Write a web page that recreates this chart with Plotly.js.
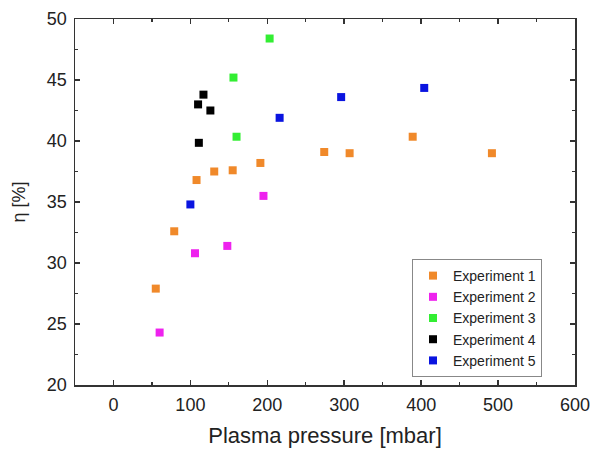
<!DOCTYPE html>
<html>
<head>
<meta charset="utf-8">
<script src="https://cdn.plot.ly/plotly-3.0.1.min.js"></script>
<style>html,body{margin:0;padding:0;background:#fff;}#chart{width:592px;height:450px;}</style>
</head>
<body>
<div id="chart"></div>
<script>
var seriesNames = ["Experiment 1", "Experiment 2", "Experiment 3", "Experiment 4", "Experiment 5"];
var seriesColors = ["#F0892A", "#EE22EE", "#33EE33", "#000000", "#0A14E0"];

var exp1X = [55, 79, 108, 131, 155, 191, 274, 307, 389, 492];
var exp1Y = [27.9, 32.6, 36.8, 37.5, 37.6, 38.2, 39.1, 39.0, 40.35, 39.0];
var exp2X = [60, 106, 148, 195];
var exp2Y = [24.3, 30.8, 31.4, 35.5];
var exp3X = [156, 160, 203];
var exp3Y = [45.2, 40.35, 48.4];
var exp4X = [110, 117, 126, 111];
var exp4Y = [43.0, 43.8, 42.5, 39.85];
var exp5X = [100, 216, 296, 404];
var exp5Y = [34.8, 41.9, 43.6, 44.35];

var xTicks = [0, 100, 200, 300, 400, 500, 600];
var yTicks = [20, 25, 30, 35, 40, 45, 50];

var xs = [exp1X, exp2X, exp3X, exp4X, exp5X];
var ys = [exp1Y, exp2Y, exp3Y, exp4Y, exp5Y];

var traces = seriesNames.map(function(n, i){
  return {
    x: xs[i], y: ys[i], name: n, type: 'scatter', mode: 'markers',
    marker: {symbol: 'square', size: 8, color: seriesColors[i]}
  };
});

var axisCommon = {
  showgrid: false, zeroline: false, showline: true, linecolor: '#333', linewidth: 1.5,
  mirror: 'allticks', ticks: 'inside', ticklen: 5, tickwidth: 1.5, tickcolor: '#333',
  tickfont: {family: 'Liberation Sans, Arial, sans-serif', size: 18, color: '#222'}
};

var layout = {
  width: 592, height: 450,
  margin: {l: 75, r: 17, t: 19, b: 65},
  paper_bgcolor: '#fff', plot_bgcolor: '#fff',
  showlegend: true,
  font: {family: 'Liberation Sans, Arial, sans-serif', color: '#222'},
  xaxis: Object.assign({}, axisCommon, {
    range: [-50, 600], tickvals: xTicks,
    ticklabelstandoff: 3,
    minor: {ticks: 'inside', ticklen: 3, tickvals: [-50, 50, 150, 250, 350, 450, 550], tickcolor: '#333', tickwidth: 1.2},
    title: {text: 'Plasma pressure [mbar]', font: {size: 22, color: '#222'}, standoff: 13}
  }),
  yaxis: Object.assign({}, axisCommon, {
    range: [20, 50], tickvals: yTicks,
    ticklabelstandoff: 3,
    minor: {ticks: 'inside', ticklen: 3, tickvals: [22.5, 27.5, 32.5, 37.5, 42.5, 47.5], tickcolor: '#333', tickwidth: 1.2},
    title: {text: 'η [%]', font: {size: 18, color: '#222'}, standoff: 16}
  }),
  legend: {
    x: 0.674, y: 0.183, xanchor: 'left', yanchor: 'middle',
    bgcolor: '#fff', bordercolor: '#888', borderwidth: 1,
    font: {size: 14, color: '#222'}, itemwidth: 30, tracegroupgap: 0
  }
};

Plotly.newPlot('chart', traces, layout, {displayModeBar: false, staticPlot: true});
</script>
</body>
</html>
